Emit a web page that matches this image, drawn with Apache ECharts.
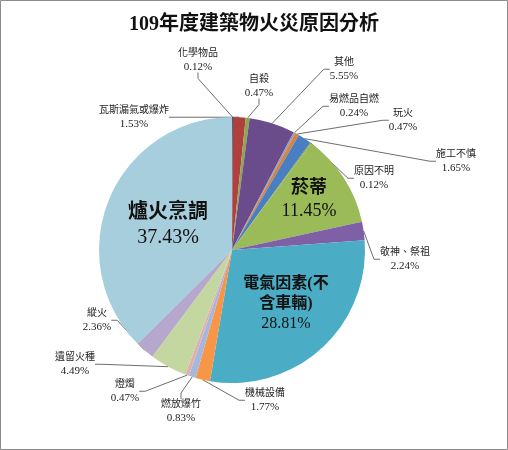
<!DOCTYPE html>
<html><head><meta charset="utf-8">
<script src="https://cdn.jsdelivr.net/npm/echarts@6/dist/echarts.min.js"></script>
<style>html,body{margin:0;padding:0;background:#fff}#c{width:508px;height:450px}</style>
</head><body><div id="c"></div>
<script>
// ---- data ----
const categories = ['化學物品','瓦斯漏氣或爆炸','自殺','其他','易燃品自燃','玩火','施工不慎','原因不明','菸蒂','敬神、祭祖','電氣因素(不含車輛)','機械設備','燃放爆竹','燈燭','遺留火種','縱火','爐火烹調'];
const percentages = [0.12,1.53,0.47,5.55,0.24,0.47,1.65,0.12,11.45,2.24,28.81,1.77,0.83,0.47,4.49,2.36,37.43];
const titleText = '109年度建築物火災原因分析';

// ---- styles / layout ----
const sliceColors = ['#3A5F8F','#B0403E','#8EA552','#6A4C8C','#8A9FBF','#D9823B','#4A7EC2','#7F9F4F','#9BBB59','#7F5FA5','#4BACC6','#F79646','#A4B7DE','#E3AFAE','#C4D7A0','#B6A7CC','#A7CEDC'];
const labelPos = {
  '化學物品':[198,60], '瓦斯漏氣或爆炸':[134,117], '自殺':[259,86], '其他':[344,69],
  '易燃品自燃':[354,106], '玩火':[403,120], '施工不慎':[456,161], '原因不明':[374,178],
  '菸蒂':[309,200], '敬神、祭祖':[405,259], '電氣因素(不含車輛)':[286,304], '機械設備':[265,400],
  '燃放爆竹':[181,411], '燈燭':[125,391], '遺留火種':[75,364], '縱火':[97,320], '爐火烹調':[168,225]
};
const FONT = "'Liberation Serif','Noto Sans CJK TC',serif";
const bigLabels = {
  '爐火烹調': {n:{fontSize:20,fontWeight:'bold',lineHeight:25}, v:{fontSize:20,lineHeight:25}},
  '菸蒂': {n:{fontSize:18,fontWeight:'bold',lineHeight:23}, v:{fontSize:18,lineHeight:23}},
  '電氣因素(不含車輛)': {n:{fontSize:16,fontWeight:'bold',lineHeight:20}, v:{fontSize:16,lineHeight:21}}
};

const data = categories.map((name, i) => {
  const item = { name: name, value: percentages[i], itemStyle: { color: sliceColors[i] } };
  if (bigLabels[name]) {
    const b = bigLabels[name];
    item.label = { rich: {
      n: Object.assign({fontFamily: FONT, color:'#111', align:'center'}, b.n),
      v: Object.assign({fontFamily: FONT, color:'#111', align:'center'}, b.v)
    }};
    item.labelLine = { show: false };
  }
  return item;
});

const chart = echarts.init(document.getElementById('c'), null, {renderer:'canvas'});
chart.setOption({
  animation: false,
  backgroundColor: '#fff',
  title: {
    text: titleText, left: 'center', top: 10,
    textStyle: { fontFamily: FONT, fontSize: 20, fontWeight: 'bold', color: '#111' }
  },
  graphic: [{ type:'rect', silent:true, shape:{x:0.5,y:0.5,width:507,height:449}, style:{fill:'none', stroke:'#8c8c8c', lineWidth:1} }],
  series: [{
    type: 'pie',
    center: [232, 250],
    radius: 133,
    startAngle: 90,
    clockwise: true,
    avoidLabelOverlap: false,
    emphasis: { disabled: true },
    data: data,
    label: {
      show: true,
      position: 'outside',
      formatter: function (p) {
        let name = p.name;
        if (name === '電氣因素(不含車輛)') name = name.slice(0,6) + '\n' + name.slice(6);
        return name.split('\n').map(s => '{n|' + s + '}').join('\n') + '\n{v|' + p.value.toFixed(2) + '%}';
      },
      rich: {
        n: { fontFamily: FONT, fontSize: 10, lineHeight: 14, color: '#222', align:'center' },
        v: { fontFamily: FONT, fontSize: 11, lineHeight: 14, color: '#222', align:'center' }
      }
    },
    labelLine: { show: true, length: 6, length2: 6, lineStyle: { color: '#6e6e6e', width: 1 } },
    labelLayout: function (p) {
      const pos = labelPos[categories[p.dataIndex]];
      return { x: pos[0], y: pos[1], align: 'center', verticalAlign: 'middle' };
    }
  }]
});
</script>
</body></html>
